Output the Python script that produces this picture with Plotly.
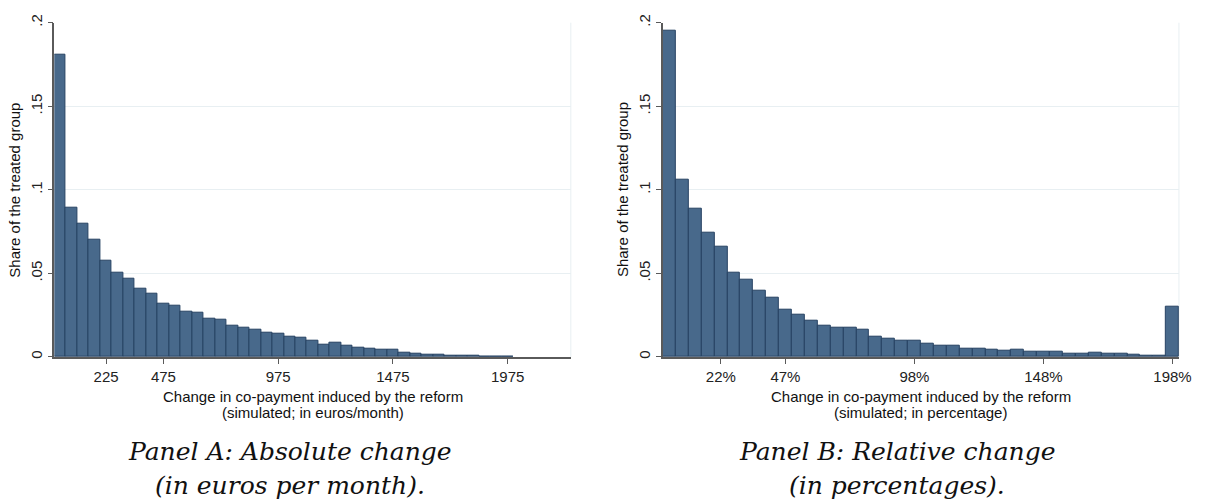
import plotly.graph_objects as go

# ---------------- data ----------------
# Panel A: absolute change, bins of 50 euros (bin centres as categories)
abs_bin_width = 50
abs_bin_centers = [25 + 50 * i for i in range(40)]
abs_share = [0.1808, 0.0893, 0.0796, 0.0700, 0.0576, 0.0504, 0.0467, 0.0407, 0.0381, 0.0321,
             0.0309, 0.0272, 0.0263, 0.0230, 0.0222, 0.0187, 0.0177, 0.0162, 0.0148, 0.0142,
             0.0123, 0.0116, 0.0095, 0.0076, 0.0086, 0.0070, 0.0058, 0.0051, 0.0045, 0.0041,
             0.0027, 0.0018, 0.0012, 0.0012, 0.0005, 0.0010, 0.0005, 0.0004, 0.0003, 0.0003]
abs_tick_vals = [225, 475, 975, 1475, 1975]
abs_tick_text = ["225", "475", "975", "1475", "1975"]

# Panel B: relative change, bins of 5 percentage points
rel_bin_width = 5
rel_bin_centers = [2.5 + 5 * i for i in range(40)]
rel_share = [0.1955, 0.1058, 0.0885, 0.0743, 0.0659, 0.0504, 0.0461, 0.0397, 0.0354, 0.0282,
             0.0255, 0.0218, 0.0187, 0.0177, 0.0173, 0.0163, 0.0121, 0.0109, 0.0099, 0.0097,
             0.0078, 0.0070, 0.0070, 0.0047, 0.0047, 0.0043, 0.0037, 0.0041, 0.0033, 0.0029,
             0.0029, 0.0022, 0.0022, 0.0027, 0.0019, 0.0018, 0.0013, 0.0009, 0.0006, 0.0302]
rel_tick_vals = [22.5, 47.5, 97.5, 147.5, 197.5]
rel_tick_text = ["22%", "47%", "98%", "148%", "198%"]

y_tick_vals = [0, 0.05, 0.1, 0.15, 0.2]
y_tick_text = ["0", ".05", ".1", ".15", ".2"]

y_title = "Share of the treated group"
x_title_line1 = "Change in co-payment induced by the reform"
abs_x_title_line2 = "(simulated; in euros/month)"
rel_x_title_line2 = "(simulated; in percentage)"
abs_caption = ["Panel A: Absolute change", "(in euros per month)."]
rel_caption = ["Panel B: Relative change", "(in percentages)."]

# ---------------- styling / layout ----------------
W, H = 1214, 504
BAR_FILL = "rgb(72,105,139)"
BAR_LINE = "rgb(38,66,98)"
GRID = "rgb(232,239,242)"
AXIS = "rgb(90,90,90)"
SANS = "Liberation Sans, Arial, sans-serif"
SERIF = "DejaVu Serif, serif"

left_px = (55, 577)
right_px = (670, 1191.7)
y_px = (14, 355.7)

def px_x(p):
    return p / W

def px_y(p):
    return 1 - p / H

fig = go.Figure()

fig.add_trace(go.Bar(x=abs_bin_centers, y=abs_share, width=abs_bin_width,
                     marker=dict(color=BAR_FILL, line=dict(color=BAR_LINE, width=1)),
                     xaxis="x", yaxis="y", showlegend=False, hoverinfo="x+y"))
fig.add_trace(go.Bar(x=rel_bin_centers, y=rel_share, width=rel_bin_width,
                     marker=dict(color=BAR_FILL, line=dict(color=BAR_LINE, width=1)),
                     xaxis="x2", yaxis="y2", showlegend=False, hoverinfo="x+y"))

common_x = dict(showgrid=False, zeroline=False, showline=True, linecolor=AXIS, linewidth=1.5,
                ticks="outside", ticklen=5, tickcolor=AXIS, tickwidth=1,
                tickfont=dict(family=SANS, size=15, color="#222"))
common_y = dict(range=[0, 0.2], showgrid=True, gridcolor=GRID, gridwidth=1, zeroline=False,
                showline=True, linecolor=AXIS, linewidth=1.5,
                ticks="outside", ticklen=5, tickcolor=AXIS, tickwidth=1,
                tickvals=y_tick_vals, ticktext=y_tick_text, tickangle=-90,
                tickfont=dict(family=SANS, size=15, color="#222"))

fig.update_layout(
    width=W, height=H,
    margin=dict(l=0, r=0, t=0, b=0),
    paper_bgcolor="white", plot_bgcolor="white",
    bargap=0,
    xaxis=dict(domain=[px_x(left_px[0]), px_x(left_px[1])], range=[0, 2250],
               tickvals=abs_tick_vals, ticktext=abs_tick_text, anchor="y", **common_x),
    yaxis=dict(domain=[px_y(y_px[1]), px_y(y_px[0])], anchor="x", **common_y),
    xaxis2=dict(domain=[px_x(right_px[0]), px_x(right_px[1])], range=[0, 200],
                tickvals=rel_tick_vals, ticktext=rel_tick_text, anchor="y2", **common_x),
    yaxis2=dict(domain=[px_y(y_px[1]), px_y(y_px[0])], anchor="x2", **common_y),
)

# light plot-region border on the right side
for xr, yr in (("x domain", "y domain"), ("x2 domain", "y2 domain")):
    fig.add_shape(type="line", xref=xr, yref=yr, x0=1, x1=1, y0=0, y1=1,
                  line=dict(color=GRID, width=1), layer="below")

annotations = []
for (x0, x1), line2, ytx in ((left_px, abs_x_title_line2, 15), (right_px, rel_x_title_line2, 630)):
    cx = (x0 + x1) / 2
    annotations.append(dict(text=x_title_line1, x=px_x(cx), y=px_y(396.5), xref="paper", yref="paper",
                            xanchor="center", yanchor="middle", showarrow=False,
                            font=dict(family=SANS, size=15, color="#111")))
    annotations.append(dict(text=line2, x=px_x(cx), y=px_y(412.5), xref="paper", yref="paper",
                            xanchor="center", yanchor="middle", showarrow=False,
                            font=dict(family=SANS, size=15, color="#111")))
    annotations.append(dict(text=y_title, x=px_x(ytx), y=px_y((y_px[0] + y_px[1]) / 2),
                            xref="paper", yref="paper", xanchor="center", yanchor="middle",
                            textangle=-90, showarrow=False,
                            font=dict(family=SANS, size=15, color="#111")))

for cx, cap in ((293, abs_caption), (907, rel_caption)):
    for cy, txt in zip((452, 487), cap):
        annotations.append(dict(text="<i>" + txt + "</i>", x=px_x(cx), y=px_y(cy),
                                xref="paper", yref="paper", xanchor="center", yanchor="middle",
                                showarrow=False,
                                font=dict(family=SERIF, size=25, color="#111")))

fig.update_layout(annotations=annotations)

fig.write_html("out.html", config={"displayModeBar": False},
               post_script="document.body.style.margin='0px';document.body.style.overflow='hidden';")
